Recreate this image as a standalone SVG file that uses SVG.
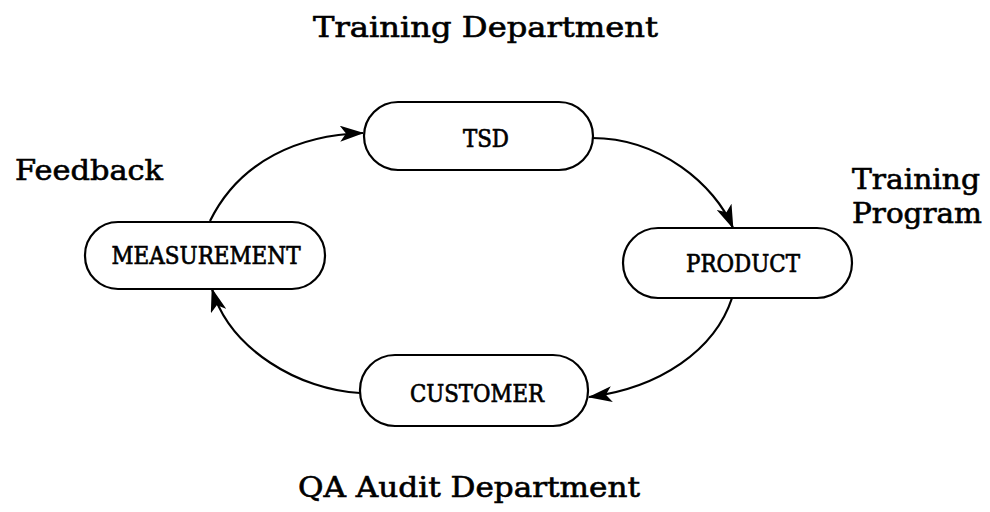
<svg xmlns="http://www.w3.org/2000/svg" width="990" height="512" viewBox="0 0 990 512">
<defs>
<style>
.node{fill:#fff;stroke:#000;stroke-width:2.2}
.lbl{font-family:"DejaVu Serif","Liberation Serif",serif;font-size:24px;fill:#000;stroke:#000;stroke-width:0.7;text-anchor:middle}
.cap{font-family:"DejaVu Serif","Liberation Serif",serif;font-size:27px;fill:#000;stroke:#000;stroke-width:0.6}
.edge{fill:none;stroke:#000;stroke-width:2.2}
</style>
<marker id="ah" viewBox="0 0 24 16" refX="23" refY="8" markerWidth="24" markerHeight="16" markerUnits="userSpaceOnUse" orient="auto">
<path d="M0,0 L24,8 L0,16 L6,8 Z" fill="#000"/>
</marker>
</defs>
<rect width="990" height="512" fill="#fff"/>
<text class="cap" x="313" y="37" textLength="345" lengthAdjust="spacingAndGlyphs">Training Department</text>
<text class="cap" x="15" y="180" textLength="148" lengthAdjust="spacingAndGlyphs">Feedback</text>
<text class="cap" x="852" y="189" textLength="128" lengthAdjust="spacingAndGlyphs">Training</text>
<text class="cap" x="852" y="223" textLength="130" lengthAdjust="spacingAndGlyphs">Program</text>
<text class="cap" x="298" y="497" textLength="342" lengthAdjust="spacingAndGlyphs">QA Audit Department</text>
<g id="edges">
<path class="edge" d="M210,221 C240,160 300,135 363,133" marker-end="url(#ah)"/>
<path class="edge" d="M592,138 C660,138 715,185 733,228" marker-end="url(#ah)"/>
<path class="edge" d="M732,298 C715,350 660,388 589,397" marker-end="url(#ah)"/>
<path class="edge" d="M360,393 C300,390 230,350 212,289" marker-end="url(#ah)"/>
</g>
<g id="tsd">
<rect class="node" x="364" y="102" width="229" height="68" rx="34" ry="34"/>
<text class="lbl" x="486" y="147" textLength="46" lengthAdjust="spacingAndGlyphs">TSD</text>
</g>
<g id="measurement">
<rect class="node" x="85" y="222" width="240" height="67" rx="33" ry="33"/>
<text class="lbl" x="206" y="264" textLength="189" lengthAdjust="spacingAndGlyphs">MEASUREMENT</text>
</g>
<g id="product">
<rect class="node" x="623" y="228" width="229" height="70" rx="35" ry="35"/>
<text class="lbl" x="743" y="272" textLength="114" lengthAdjust="spacingAndGlyphs">PRODUCT</text>
</g>
<g id="customer">
<rect class="node" x="360" y="355" width="228" height="71" rx="35" ry="35"/>
<text class="lbl" x="477" y="402" textLength="134" lengthAdjust="spacingAndGlyphs">CUSTOMER</text>
</g>
</svg>
